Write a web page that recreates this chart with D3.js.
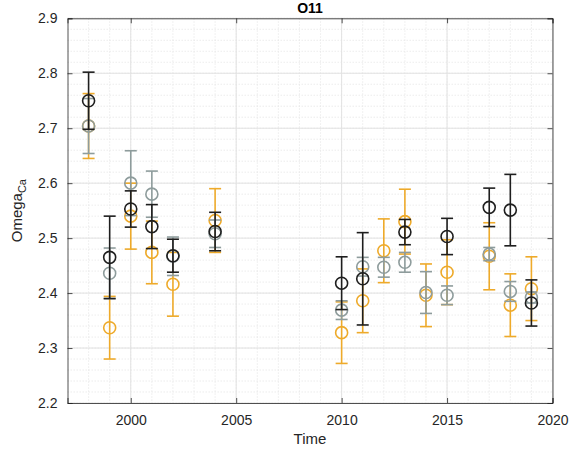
<!DOCTYPE html>
<html><head><meta charset="utf-8">
<script src="https://cdn.jsdelivr.net/npm/d3@7"></script>
<style>body{margin:0;background:#fff;} svg{display:block;font-family:"Liberation Sans",Arial,Helvetica,sans-serif;}</style>
</head><body><svg id="c" width="573" height="460"></svg>
<script>
const title = "O11";
const xTicks = [2000, 2005, 2010, 2015, 2020];
const yTicks = [2.2, 2.3, 2.4, 2.5, 2.6, 2.7, 2.8, 2.9];

const orangeYears = [1998,1999,2000,2001,2002,2004,2010,2011,2012,2013,2014,2015,2017,2018,2019];
const orangeVals  = [2.704,2.337,2.540,2.474,2.416,2.532,2.328,2.386,2.477,2.530,2.396,2.438,2.467,2.378,2.408];
const orangeErr   = [0.059,0.057,0.060,0.057,0.058,0.058,0.056,0.058,0.058,0.059,0.057,0.059,0.061,0.057,0.058];

const grayYears = [1998,1999,2000,2001,2002,2004,2010,2011,2012,2013,2014,2015,2017,2018,2019];
const grayVals  = [2.704,2.436,2.600,2.580,2.467,2.508,2.369,2.448,2.447,2.456,2.401,2.396,2.471,2.403,2.392];
const grayErr   = [0.050,0.046,0.059,0.042,0.035,0.025,0.017,0.017,0.018,0.018,0.038,0.017,0.012,0.018,0.010];

const blackYears = [1998,1999,2000,2001,2002,2004,2010,2011,2013,2015,2017,2018,2019];
const blackVals  = [2.750,2.465,2.553,2.521,2.468,2.512,2.418,2.426,2.511,2.503,2.556,2.551,2.382];
const blackErr   = [0.052,0.075,0.033,0.040,0.030,0.035,0.048,0.084,0.023,0.033,0.035,0.065,0.042];

const svg = d3.select("#c");
const L = 67.5, R = 552.5, T = 18.3, B = 403;
const x = d3.scaleLinear().domain([1997, 2020]).range([L, R]);
const y = d3.scaleLinear().domain([2.2, 2.9]).range([B, T]);

const g = svg.append("g");
// minor grid
g.append("g").selectAll("line").data(d3.range(1998, 2020)).join("line")
  .attr("x1", d => x(d)).attr("x2", d => x(d)).attr("y1", T).attr("y2", B)
  .attr("stroke", "#e4e4e4").attr("stroke-width", 0.7).attr("stroke-dasharray", "1.5,1.5");
g.append("g").selectAll("line").data(d3.range(0, 36).map(i => 2.2 + i * 0.02)).join("line")
  .attr("x1", L).attr("x2", R).attr("y1", d => y(d)).attr("y2", d => y(d))
  .attr("stroke", "#e4e4e4").attr("stroke-width", 0.7).attr("stroke-dasharray", "1.5,1.5");
// major grid
g.append("g").selectAll("line").data(xTicks).join("line")
  .attr("x1", d => x(d)).attr("x2", d => x(d)).attr("y1", T).attr("y2", B)
  .attr("stroke", "#e2e2e2").attr("stroke-width", 1);
g.append("g").selectAll("line").data(yTicks).join("line")
  .attr("x1", L).attr("x2", R).attr("y1", d => y(d)).attr("y2", d => y(d))
  .attr("stroke", "#e2e2e2").attr("stroke-width", 1);

// axes
const axCol = "#262626";
const xa = svg.append("g").attr("transform", `translate(0,${B})`)
  .call(d3.axisBottom(x).tickValues(xTicks).tickSize(-5).tickPadding(12).tickFormat(d3.format("d")));
const xt = svg.append("g").attr("transform", `translate(0,${T})`)
  .call(d3.axisTop(x).tickValues(xTicks).tickSize(-5).tickFormat(""));
const ya = svg.append("g").attr("transform", `translate(${L},0)`)
  .call(d3.axisLeft(y).tickValues(yTicks).tickSize(-5).tickPadding(10).tickFormat(d3.format(".1f")));
const yr = svg.append("g").attr("transform", `translate(${R},0)`)
  .call(d3.axisRight(y).tickValues(yTicks).tickSize(-5).tickFormat(""));
[xa, xt, ya, yr].forEach(a => {
  a.select(".domain").attr("stroke", axCol).attr("stroke-width", 0.8);
  a.selectAll(".tick line").attr("stroke", axCol).attr("stroke-width", 0.8);
  a.selectAll("text").attr("fill", axCol).style("font-size", "14px")
    .style("font-family", "'Liberation Sans', Arial, sans-serif");
});

function series(years, vals, errs, col) {
  const data = years.map((yr, i) => ({yr, v: vals[i], e: errs[i]}));
  const s = svg.append("g").attr("stroke", col).attr("fill", "none").attr("stroke-width", 1.6);
  const cw = 6;
  data.forEach(d => {
    const cx = x(d.yr);
    s.append("line").attr("x1", cx).attr("x2", cx).attr("y1", y(d.v + d.e)).attr("y2", y(d.v - d.e));
    s.append("line").attr("x1", cx - cw).attr("x2", cx + cw).attr("y1", y(d.v + d.e)).attr("y2", y(d.v + d.e));
    s.append("line").attr("x1", cx - cw).attr("x2", cx + cw).attr("y1", y(d.v - d.e)).attr("y2", y(d.v - d.e));
    s.append("circle").attr("cx", cx).attr("cy", y(d.v)).attr("r", 6);
  });
}
series(orangeYears, orangeVals, orangeErr, "#eeaa2a");
series(grayYears, grayVals, grayErr, "#8e9c9c");
series(blackYears, blackVals, blackErr, "#1e1e1e");

svg.append("text").attr("x", (L + R) / 2).attr("y", 13).attr("text-anchor", "middle")
  .attr("fill", "#000").style("font-size", "14px").style("font-weight", "bold").text(title);
svg.append("text").attr("x", (L + R) / 2).attr("y", 444).attr("text-anchor", "middle")
  .attr("fill", axCol).style("font-size", "15px").text("Time");
const yl = svg.append("text").attr("transform", `translate(22,${(T + B) / 2}) rotate(-90)`)
  .attr("text-anchor", "middle").attr("fill", axCol).style("font-size", "15px");
yl.append("tspan").text("Omega");
yl.append("tspan").attr("dy", 4).style("font-size", "11px").text("Ca");
</script></body></html>
